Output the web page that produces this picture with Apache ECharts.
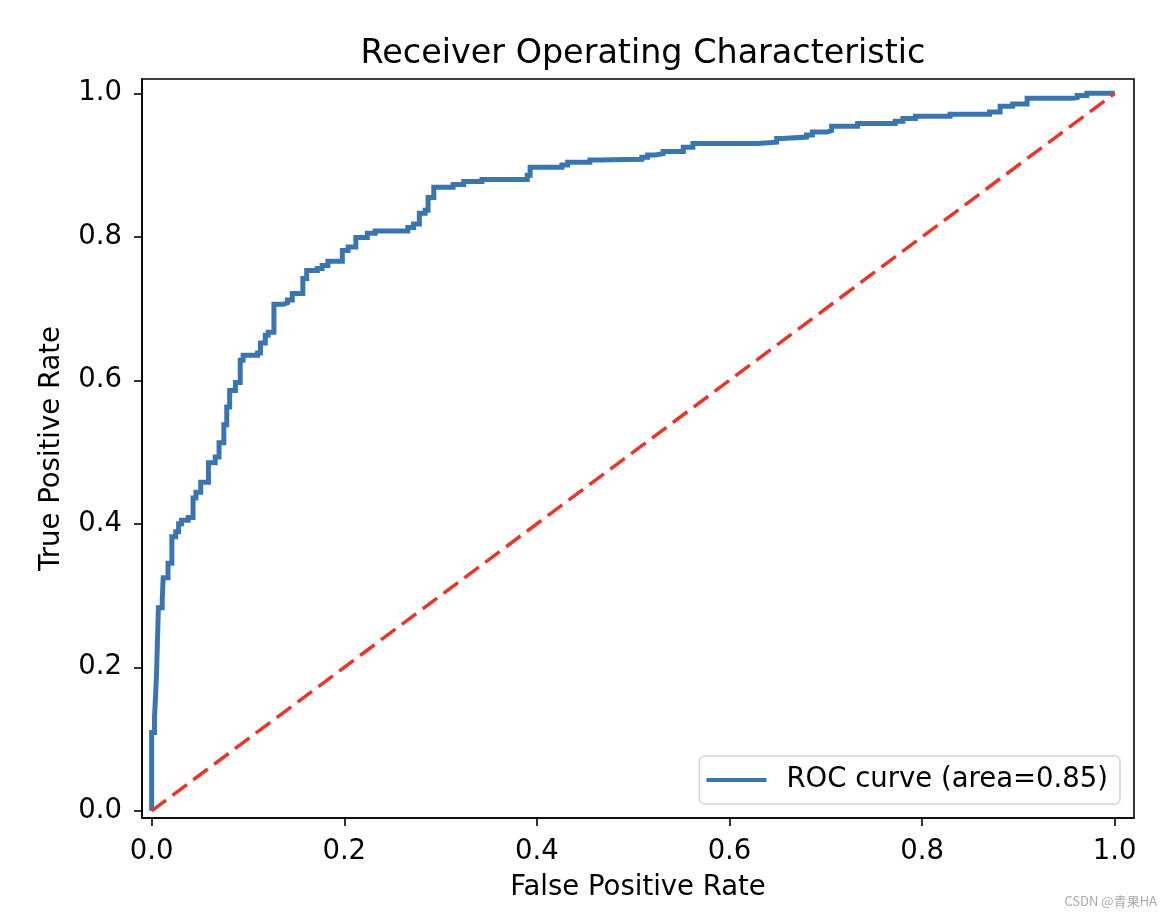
<!DOCTYPE html>
<html>
<head>
<meta charset="utf-8">
<script src="https://cdn.jsdelivr.net/npm/echarts@6/dist/echarts.min.js"></script>
<style>
html,body{margin:0;padding:0;background:#fff;}
#chart{width:1172px;height:918px;}
</style>
</head>
<body>
<div id="chart"></div>
<script>
// ROC curve vertices (false positive rate, true positive rate)
const fpr = [0, 0, 0.003, 0.005, 0.007, 0.011, 0.012, 0.017, 0.021, 0.025, 0.028, 0.031, 0.038, 0.043, 0.046, 0.051, 0.059, 0.066, 0.070, 0.075, 0.078, 0.081, 0.087, 0.092, 0.095, 0.110, 0.113, 0.118, 0.121, 0.127, 0.137, 0.141, 0.146, 0.157, 0.161, 0.172, 0.177, 0.183, 0.198, 0.204, 0.212, 0.224, 0.232, 0.266, 0.272, 0.278, 0.284, 0.287, 0.293, 0.313, 0.324, 0.343, 0.390, 0.393, 0.426, 0.432, 0.455, 0.464, 0.509, 0.515, 0.523, 0.531, 0.552, 0.562, 0.629, 0.649, 0.655, 0.680, 0.686, 0.701, 0.706, 0.733, 0.772, 0.780, 0.793, 0.829, 0.870, 0.881, 0.894, 0.909, 0.956, 0.961, 0.971, 1.0];
const tpr = [0, 0.109, 0.130, 0.187, 0.283, 0.294, 0.325, 0.345, 0.382, 0.389, 0.400, 0.405, 0.409, 0.436, 0.444, 0.458, 0.485, 0.493, 0.513, 0.538, 0.563, 0.586, 0.597, 0.628, 0.635, 0.638, 0.652, 0.663, 0.667, 0.706, 0.708, 0.712, 0.721, 0.742, 0.753, 0.756, 0.760, 0.766, 0.781, 0.786, 0.799, 0.805, 0.808, 0.813, 0.818, 0.833, 0.837, 0.855, 0.869, 0.873, 0.877, 0.880, 0.886, 0.897, 0.900, 0.904, 0.907, 0.908, 0.911, 0.914, 0.916, 0.919, 0.925, 0.930, 0.932, 0.937, 0.939, 0.942, 0.946, 0.948, 0.954, 0.958, 0.961, 0.965, 0.968, 0.971, 0.974, 0.982, 0.985, 0.993, 0.994, 0.997, 1.0, 1.0];
const chanceX = [0, 1];
const chanceY = [0, 1];
const tickValues = [0, 0.2, 0.4, 0.6, 0.8, 1.0];
const seriesName = 'ROC curve (area=0.85)';
const titleText = 'Receiver Operating Characteristic';
const xName = 'False Positive Rate';
const yName = 'True Positive Rate';

const rocData = fpr.map((x, i) => [x, tpr[i]]);
const chanceData = chanceX.map((x, i) => [x, chanceY[i]]);

const FONT = 'DejaVu Sans';
const FS = 27.5;
const chart = echarts.init(document.getElementById('chart'), null, {renderer: 'canvas'});

function axisCommon(name, gap, margin) {
  return {
    type: 'value',
    min: -0.01,
    max: 1.02,
    name: name,
    nameLocation: 'middle',
    nameGap: gap,
    nameTextStyle: {fontFamily: FONT, fontSize: FS, color: '#000'},
    axisLine: {show: true, onZero: false, lineStyle: {color: '#000', width: 1.6}},
    axisTick: {show: true, inside: false, length: 8, customValues: tickValues, lineStyle: {color: '#000', width: 1.6}},
    axisLabel: {
      show: true, margin: margin, customValues: tickValues,
      fontFamily: FONT, fontSize: FS, color: '#000',
      formatter: v => v.toFixed(1)
    },
    splitLine: {show: false}
  };
}

const option = {
  backgroundColor: '#fff',
  animation: false,
  title: {
    text: titleText,
    left: 638,
    top: 33,
    textAlign: 'center',
    textStyle: {fontFamily: FONT, fontSize: 33.4, fontWeight: 'normal', color: '#000'}
  },
  grid: {
    left: 142, right: 38, top: 79, bottom: 100,
    show: true, borderColor: '#000', borderWidth: 1.6, backgroundColor: 'transparent'
  },
  xAxis: axisCommon(xName, 56, 20),
  yAxis: axisCommon(yName, 76, 20),
  legend: {
    data: [{name: seriesName, icon: 'rect'}],
    right: 52,
    bottom: 114,
    orient: 'vertical',
    itemWidth: 60,
    itemHeight: 4,
    padding: [10, 12, 10, 7],
    backgroundColor: 'rgba(255,255,255,0.8)',
    borderColor: '#d4d4d4',
    borderWidth: 1.5,
    borderRadius: 5,
    textStyle: {fontFamily: FONT, fontSize: FS, color: '#000', padding: [0, 0, 0, 15]}
  },
  series: [
    {
      name: seriesName,
      type: 'line',
      step: 'end',
      data: rocData,
      showSymbol: false,
      symbol: 'none',
      lineStyle: {color: '#3a75af', width: 5, join: 'miter'},
      itemStyle: {color: '#3a75af'},
      z: 3
    },
    {
      name: 'chance',
      type: 'line',
      data: chanceData,
      showSymbol: false,
      symbol: 'none',
      lineStyle: {color: '#e8362b', width: 3.5, type: [18, 8]},
      itemStyle: {color: '#e8362b'},
      z: 4
    }
  ],
  graphic: [
    {
      type: 'text',
      right: 15,
      bottom: 10,
      style: {text: 'CSDN @青果HA', fontSize: 13, fill: '#aaaaaa', fontFamily: 'Noto Sans CJK SC'}
    }
  ]
};
chart.setOption(option);
</script>
</body>
</html>
